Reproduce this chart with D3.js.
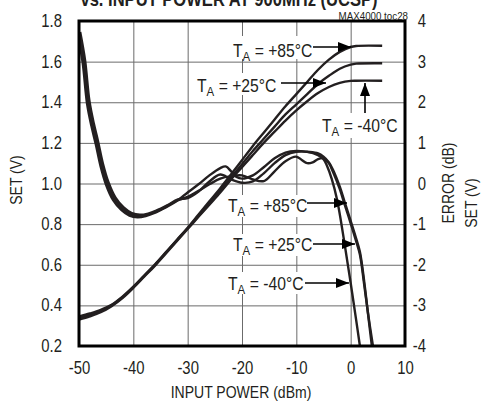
<!DOCTYPE html>
<html>
<head>
<meta charset="utf-8">
<script src="https://cdn.jsdelivr.net/npm/d3@7"></script>
<style>
  html, body { margin: 0; padding: 0; background: #fff; }
  svg { display: block; }
  text { font-family: 'Liberation Sans', Arial, sans-serif; fill: #231f20; }
</style>
</head>
<body>
<script>
// ---------- data ----------
const xTicks = [-50, -40, -30, -20, -10, 0, 10];
const setTicks = [0.2, 0.4, 0.6, 0.8, 1.0, 1.2, 1.4, 1.6, 1.8];
const errTicks = [-4, -3, -2, -1, 0, 1, 2, 3, 4];

// SET (V) vs input power (dBm)
const setPower = [-50,-48,-46,-44,-42,-40,-38,-36,-34,-32,-30,-28,-26,-24,-22,-20,-18,-16,-14,-12,-10,-8,-6,-4,-2,0,1,5.8];
const set85  = [0.345,0.36,0.378,0.403,0.443,0.492,0.547,0.602,0.662,0.722,0.782,0.847,0.912,0.977,1.045,1.115,1.185,1.25,1.315,1.38,1.44,1.50,1.56,1.61,1.648,1.672,1.677,1.678];
const set25  = [0.337,0.352,0.371,0.40,0.44,0.49,0.545,0.60,0.66,0.72,0.78,0.84,0.90,0.965,1.03,1.095,1.16,1.22,1.28,1.34,1.39,1.44,1.49,1.53,1.565,1.585,1.59,1.592];
const setM40 = [0.33,0.346,0.366,0.396,0.436,0.486,0.541,0.596,0.656,0.716,0.776,0.836,0.896,0.956,1.02,1.08,1.14,1.20,1.255,1.31,1.36,1.405,1.445,1.475,1.495,1.505,1.506,1.506];

// ERROR (dB) vs input power (dBm)
const errPowerLow = [-50,-49.1,-48.3,-47.5,-46.7,-45.8,-44.8,-43.5,-42,-40.5,-39,-37.5,-36,-34,-32];
const errLow      = [3.7,3.0,2.0,1.45,1.0,0.45,0.0,-0.38,-0.62,-0.76,-0.8,-0.77,-0.7,-0.57,-0.42];

const errPower85 = [-30,-28,-26,-24,-23,-22,-21,-20,-18,-16,-14,-12,-10,-8,-6,-5,-4,-3.3,-2,-1.1,0,1,1.7,2.5,3.1,3.9];
const err85      = [-0.22,-0.02,0.2,0.38,0.42,0.3,0.16,0.12,0.2,0.4,0.62,0.76,0.8,0.78,0.74,0.66,0.52,0.35,-0.08,-0.46,-0.92,-1.35,-1.68,-2.42,-3.1,-4.0];

const errPower25 = [-30,-28,-26,-24,-22,-20,-18,-16,-14,-12,-10,-9,-8,-7,-6,-5,-4,-3.3,-2,-1.1,0,1,1.7,2.5,3.2,4.1];
const err25      = [-0.33,-0.18,-0.02,0.12,0.18,0.2,0.1,0.06,0.3,0.55,0.66,0.58,0.5,0.52,0.6,0.62,0.5,0.3,-0.14,-0.52,-0.98,-1.42,-1.75,-2.5,-3.2,-4.0];

const errPowerM40 = [-30,-28,-26,-24,-22,-20,-18,-16,-14,-12,-10,-8,-6,-5,-4.4,-3.5,-2.5,-1.1,0,1,1.7];
const errM40      = [-0.36,-0.2,0.05,0.22,0.1,0.02,0.05,0.25,0.5,0.7,0.78,0.78,0.7,0.6,0.45,0.12,-0.4,-1.5,-2.45,-3.35,-4.0];

// ---------- layout ----------
const W = 482, H = 402;
const L = 79, R = 405, T = 21, B = 346;
const SX = 0.85; // horizontal condensing of the lettering
const INK = "#231f20";
const hyphen = d => (d < 0 ? "-" + Math.abs(d) : String(d));

const svg = d3.select("body").append("svg").attr("width", W).attr("height", H);

const x = d3.scaleLinear().domain([-50, 10]).range([L, R]);
const yL = d3.scaleLinear().domain([0.2, 1.8]).range([B, T]);
const yR = d3.scaleLinear().domain([-4, 4]).range([B, T]);

function label(parent, px, py, str, size, opts = {}) {
  const g = parent.append("g")
    .attr("transform", `translate(${px},${py}) rotate(${opts.rot || 0}) scale(${opts.sx || SX},1)`);
  const t = g.append("text").attr("font-size", size).attr("text-anchor", opts.anchor || "start");
  if (opts.bold) t.attr("font-weight", "bold");
  if (str !== null) t.text(str);
  return t;
}

// gridlines
const gx = svg.append("g").attr("transform", `translate(0,${B})`)
  .call(d3.axisBottom(x).tickValues(xTicks.slice(1, -1)).tickSize(-(B - T)).tickFormat(""));
gx.select(".domain").remove();
gx.selectAll("line").attr("stroke", "#6b6b6b").attr("stroke-width", 1);
const gy = svg.append("g").attr("transform", `translate(${L},0)`)
  .call(d3.axisLeft(yL).tickValues(setTicks.slice(1, -1)).tickSize(-(R - L)).tickFormat(""));
gy.select(".domain").remove();
gy.selectAll("line").attr("stroke", "#6b6b6b").attr("stroke-width", 1);

// white boxes behind labels
const boxes = [
  [229, 36, 80, 23], [194, 73, 84, 22], [318, 113, 80, 25],
  [224, 195, 80, 22], [229, 234, 80, 22], [224, 272, 78, 22]
];
svg.append("g").selectAll("rect").data(boxes).join("rect")
  .attr("x", d => d[0]).attr("y", d => d[1]).attr("width", d => d[2]).attr("height", d => d[3])
  .attr("fill", "#fff");

// clip
svg.append("clipPath").attr("id", "plotclip").append("rect")
  .attr("x", L).attr("y", T).attr("width", R - L).attr("height", B - T);

const curves = svg.append("g").attr("clip-path", "url(#plotclip)");
const lineSet = d3.line().x(d => x(d[0])).y(d => yL(d[1])).curve(d3.curveCatmullRom.alpha(0.5));
const lineErr = d3.line().x(d => x(d[0])).y(d => yR(d[1])).curve(d3.curveCatmullRom.alpha(0.5));

const setSeries = [set85, set25, setM40].map(v => setPower.map((p, i) => [p, v[i]]));
const errSeries = [
  [errPower85, err85], [errPower25, err25], [errPowerM40, errM40]
].map(([p, v], k) => {
  const low = errPowerLow.map((q, i) => [q + (k - 1) * 0.22, errLow[i] + (k - 1) * 0.03]);
  return low.concat(p.map((q, i) => [q, v[i]]));
});

curves.selectAll("path.set").data(setSeries).join("path").attr("class", "set")
  .attr("d", lineSet).attr("fill", "none").attr("stroke", INK).attr("stroke-width", 2.4);
curves.selectAll("path.err").data(errSeries).join("path").attr("class", "err")
  .attr("d", lineErr).attr("fill", "none").attr("stroke", INK).attr("stroke-width", 2.4);

// frame
svg.append("rect").attr("x", L).attr("y", T).attr("width", R - L).attr("height", B - T)
  .attr("fill", "none").attr("stroke", "#000").attr("stroke-width", 3);

// axes tick labels (condensed)
const ax = svg.append("g").attr("transform", `translate(0,${B})`)
  .call(d3.axisBottom(x).tickValues(xTicks).tickSize(0).tickPadding(16).tickFormat(hyphen));
ax.select(".domain").remove();
ax.selectAll("text").attr("font-size", 17.5).attr("fill", INK)
  .attr("transform", `scale(${SX},1)`);

const al = svg.append("g").attr("transform", `translate(${L},0)`)
  .call(d3.axisLeft(yL).tickValues(setTicks).tickSize(0).tickFormat(d3.format(".1f")));
al.select(".domain").remove();
al.selectAll("text").attr("font-size", 17.5).attr("fill", INK)
  .attr("x", -17 / SX).attr("transform", `scale(${SX},1)`);

const ar = svg.append("g").attr("transform", `translate(${R},0)`)
  .call(d3.axisRight(yR).tickValues(errTicks).tickSize(0).tickFormat(hyphen));
ar.select(".domain").remove();
ar.selectAll("text").attr("font-size", 17.5).attr("fill", INK)
  .attr("text-anchor", "end").attr("x", 21 / SX).attr("transform", `scale(${SX},1)`);

// axis titles
label(svg, 241, 398, "INPUT POWER (dBm)", 16.5, { anchor: "middle" });
label(svg, 22, 180, "SET (V)", 16.5, { anchor: "middle", rot: -90 });
label(svg, 454, 183, "ERROR (dB)", 16.5, { anchor: "middle", rot: -90 });
label(svg, 477, 203, "SET (V)", 16.5, { anchor: "middle", rot: -90 });

// title (mostly cut off at the top in the reference)
label(svg, 229, 6, "vs. INPUT POWER AT 900MHz (UCSP)", 19.5, { anchor: "middle", bold: true });
label(svg, 408, 19.5, "MAX4000 toc28", 11.5, { anchor: "end" });

// temperature labels
const tempLabels = [
  { x: 233, y: 57, t: "+85°C" },
  { x: 197, y: 92, t: "+25°C" },
  { x: 322, y: 132, t: "-40°C" },
  { x: 228, y: 212, t: "+85°C" },
  { x: 233, y: 251, t: "+25°C" },
  { x: 228, y: 290, t: "-40°C" }
];
tempLabels.forEach(l => {
  const t = label(svg, l.x, l.y, null, 18.5);
  t.append("tspan").text("T");
  t.append("tspan").attr("font-size", 13.5).attr("dy", 4).text("A");
  t.append("tspan").attr("dy", -4).text(" = " + l.t);
});

// arrows
svg.append("defs").append("marker").attr("id", "ah")
  .attr("viewBox", "0 0 13 10").attr("refX", 13).attr("refY", 5)
  .attr("markerWidth", 13).attr("markerHeight", 10).attr("markerUnits", "userSpaceOnUse")
  .attr("orient", "auto")
  .append("path").attr("d", "M0,0 L13,5 L0,10 Z").attr("fill", "#000");

const arrows = [
  [313, 47, 351, 47], [281, 83, 326, 83], [365, 113, 365, 83],
  [307, 203, 347, 203], [313, 244, 355, 244], [305, 283, 349, 283]
];
svg.append("g").selectAll("line").data(arrows).join("line")
  .attr("x1", d => d[0]).attr("y1", d => d[1]).attr("x2", d => d[2]).attr("y2", d => d[3])
  .attr("stroke", "#000").attr("stroke-width", 1.6).attr("marker-end", "url(#ah)");
</script>
</body>
</html>
